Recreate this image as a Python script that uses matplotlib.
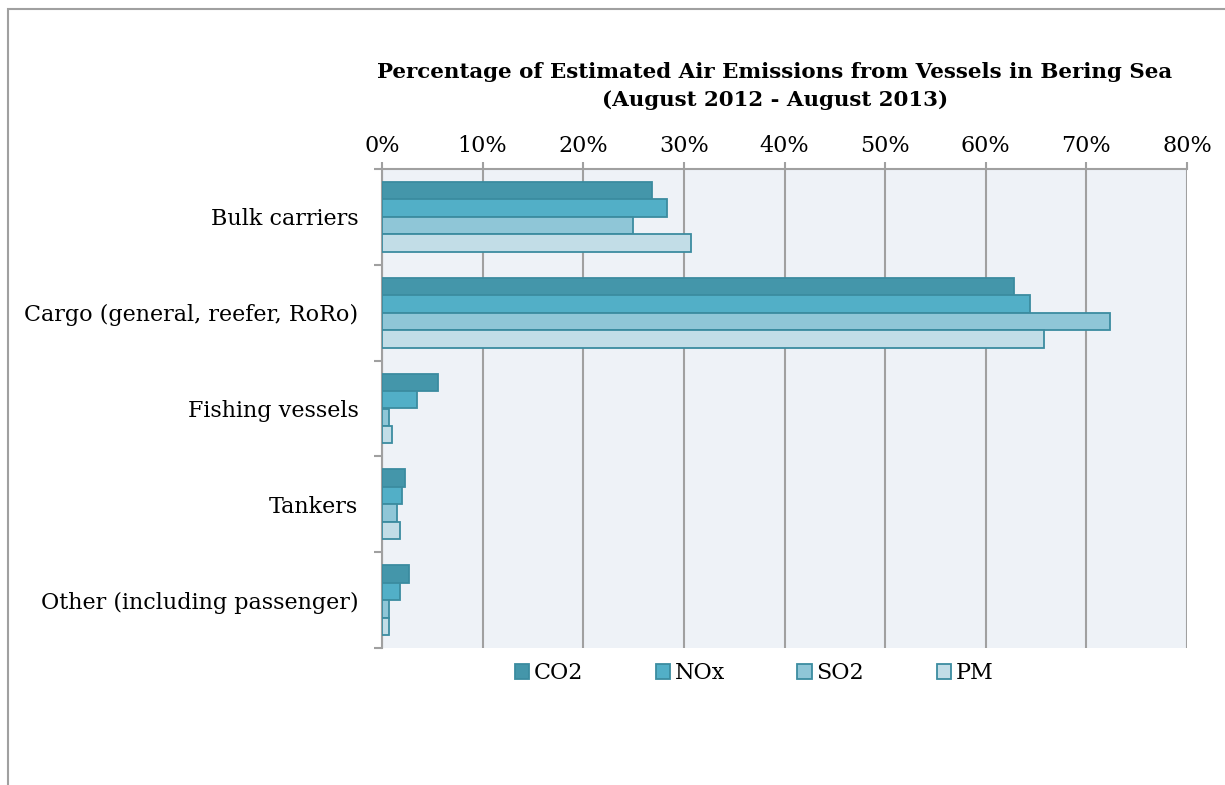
import numpy as np
import matplotlib.pyplot as plt
from matplotlib.patches import Rectangle
from matplotlib.ticker import FuncFormatter

categories = ['Bulk carriers', 'Cargo (general, reefer, RoRo)', 'Fishing vessels',
              'Tankers', 'Other (including passenger)']
series = ['CO2', 'NOx', 'SO2', 'PM']
co2 = [26.8, 62.8, 5.6, 2.25, 2.65]
nox = [28.3, 64.4, 3.5, 2.0, 1.8]
so2 = [24.9, 72.3, 0.73, 1.5, 0.66]
pm = [30.7, 65.8, 1.0, 1.8, 0.73]
values = [co2, nox, so2, pm]

fills = ['#4496AA', '#52AFC7', '#8FC6D7', '#C2DDE7']
edge = '#3B8CA0'
grid_c = '#A0A0A0'

plt.rcParams['font.family'] = 'DejaVu Serif'

fig = plt.figure(figsize=(12.25, 7.85), dpi=100)
ax = fig.add_axes([382/1225, 1-648/785, (1187-382)/1225, (648-169)/785])
ax.set_facecolor('#EEF2F7')

y = np.arange(len(categories))
h = 0.1825
for k, (name, vals) in enumerate(zip(series, values)):
    ax.barh(y + (k - 1.5) * h, vals, height=h, color=fills[k], edgecolor=edge,
            linewidth=1.3, label=name, zorder=3)

ax.set_xlim(0, 80)
ax.set_ylim(4.5, -0.5)
ax.set_xticks(np.arange(0, 81, 10))
ax.xaxis.set_major_formatter(FuncFormatter(lambda v, p: '%d%%' % v))
ax.xaxis.tick_top()
ax.grid(axis='x', color=grid_c, linewidth=1.5, zorder=1)
ax.tick_params(axis='x', length=5, width=1.5, color=grid_c, labelsize=16, pad=4)

ax.set_yticks(y)
ax.set_yticklabels(categories)
ax.set_yticks(np.arange(-0.5, 5, 1), minor=True)
ax.tick_params(axis='y', which='major', length=0, labelsize=16, pad=17)
ax.tick_params(axis='y', which='minor', length=6, width=1.5, color=grid_c)

for s in ['right', 'bottom']:
    ax.spines[s].set_visible(False)
for s in ['top', 'left']:
    ax.spines[s].set_color(grid_c)
    ax.spines[s].set_linewidth(1.5)

fig.text(0.6327, 1-72/785, 'Percentage of Estimated Air Emissions from Vessels in Bering Sea',
         ha='center', va='center', fontsize=15.4, fontweight='bold')
fig.text(0.6327, 1-100/785, '(August 2012 - August 2013)',
         ha='center', va='center', fontsize=15.4, fontweight='bold')

leg = fig.legend(loc='center', bbox_to_anchor=(754/1225, 1-673/785), ncol=4,
                 frameon=False, fontsize=16, handlelength=0.65, handleheight=0.65,
                 handletextpad=0.2, columnspacing=3.27)

fig.patches.append(Rectangle((8/1225, -0.1), 1.2, 1-9/785+0.1, transform=fig.transFigure,
                             fill=False, edgecolor=grid_c, linewidth=1.5))

fig.savefig('out.png', dpi=100)
